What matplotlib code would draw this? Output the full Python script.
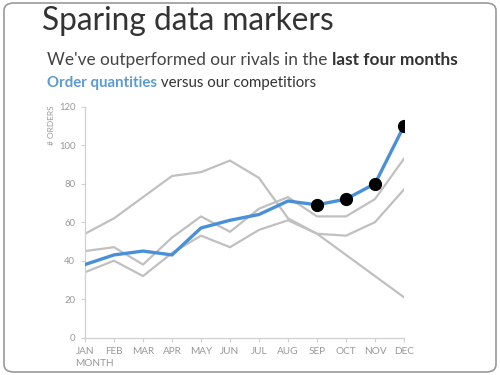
import matplotlib
matplotlib.use('Agg')
import matplotlib.pyplot as plt
from matplotlib.patches import FancyBboxPatch

# data
months = ['JAN', 'FEB', 'MAR', 'APR', 'MAY', 'JUN', 'JUL', 'AUG', 'SEP', 'OCT', 'NOV', 'DEC']
ours = [38, 43, 45, 43, 57, 61, 64, 71, 69, 72, 80, 110]
rival_a = [54, 62, 73, 84, 86, 92, 83, 62, 54, 43, 32, 21]
rival_b = [45, 47, 38, 52, 63, 55, 67, 73, 63, 63, 72, 93]
rival_c = [34, 40, 32, 44, 53, 47, 56, 61, 54, 53, 60, 77]
marked = ['SEP', 'OCT', 'NOV', 'DEC']

plt.rcParams['font.family'] = ['Lato', 'DejaVu Sans']

fig = plt.figure(figsize=(5, 3.75), dpi=100)

# rounded frame round the whole picture
frame = FancyBboxPatch((0.008, 0.008), 0.984, 0.984, boxstyle='round,pad=0,rounding_size=0.02',
                       transform=fig.transFigure, fill=False, edgecolor='#9a9a9a', linewidth=1.2)
fig.patches.append(frame)

ax = fig.add_axes([0.17, 0.0995, 0.638, 0.616])
x = list(range(len(months)))

grey = '#c0c0c0'
for series in (rival_a, rival_b, rival_c):
    ax.plot(x, series, color=grey, linewidth=1.6, zorder=2)
ax.plot(x, ours, color='#4a90d9', linewidth=2.4, zorder=3)

idx = [months.index(m) for m in marked]
ax.plot(idx, [ours[i] for i in idx], linestyle='none', marker='o', markersize=8.5,
        color='black', zorder=4)

ax.set_xlim(0, 11)
ax.set_ylim(0, 120)
ax.set_xticks(x)
ax.set_xticklabels(months)
ax.set_yticks(range(0, 121, 20))
for s in ('top', 'right'):
    ax.spines[s].set_visible(False)
for s in ('left', 'bottom'):
    ax.spines[s].set_color('#d0d0d0')
    ax.spines[s].set_linewidth(0.9)
ax.tick_params(axis='both', colors='#d0d0d0', length=3, width=0.8)
ax.tick_params(axis='x', labelcolor='#999999', labelsize=7.2, pad=4)
ax.tick_params(axis='y', labelcolor='#999999', labelsize=6.8, pad=4)

fig.text(0.102, 0.72, '# ORDERS', rotation=90, ha='center', va='top', fontsize=6, color='#999999')
fig.text(0.151, 0.03, 'MONTH', ha='left', va='center', fontsize=7.2, color='#999999')

# title block
fig.text(0.084, 0.945, 'Sparing data markers', ha='left', va='center', fontsize=22.8, color='#333333')

fig.canvas.draw()
r = fig.canvas.get_renderer()
t1 = fig.text(0.094, 0.84, "We've outperformed our rivals in the ", ha='left', va='center',
              fontsize=12.4, color='#444444')
w = t1.get_window_extent(r).x1 / fig.bbox.width
fig.text(w, 0.84, 'last four months', ha='left', va='center', fontsize=12.4,
         color='#333333', fontweight='bold')

t2 = fig.text(0.094, 0.778, 'Order quantities', ha='left', va='center', fontsize=10.8,
              color='#5b9bd5', fontweight='bold')
w = t2.get_window_extent(r).x1 / fig.bbox.width
fig.text(w, 0.778, ' versus our competitiors', ha='left', va='center', fontsize=10.8, color='#333333')

fig.savefig('out.png', dpi=100)
